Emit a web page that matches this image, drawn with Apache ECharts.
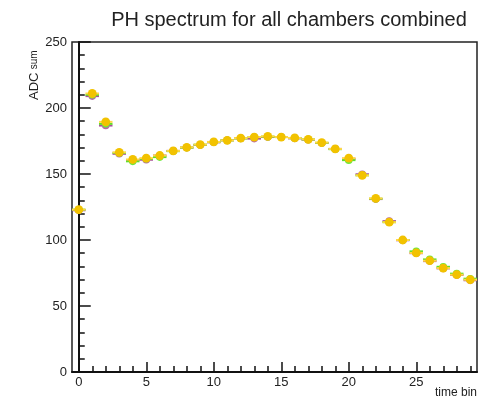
<!DOCTYPE html>
<html>
<head>
<meta charset="utf-8">
<script src="https://cdn.jsdelivr.net/npm/echarts@6/dist/echarts.min.js"></script>
<style>
  html, body { margin: 0; padding: 0; background: #fff; }
  #chart { width: 495px; height: 400px; }
</style>
</head>
<body>
<div id="chart"></div>
<script>
// Time bins 0..29
const timeBins = [0,1,2,3,4,5,6,7,8,9,10,11,12,13,14,15,16,17,18,19,20,21,22,23,24,25,26,27,28,29];

// ADC sum per time bin, one array per chamber group
const adcPurple = [122.5,209,186.7,165.3,160.5,160.8,164,167.5,170,172,174,175.5,177,176.8,178,178,177,176,173.5,169,161.5,149.8,131,114.3,99.8,90,84,78.5,73.5,69.5];
const adcGreen  = [123,210,188,166,159.6,161.5,162.8,167.3,170,172.2,174.2,175.5,177,178,178.3,178,177.2,176.2,173.6,168.8,160.5,149,131.3,113.5,100,91.4,85.3,79.7,74.5,70.7];
const adcYellow = [123,211,189.5,166.4,161,162,164,167.5,170.2,172.3,174.3,175.5,177.2,178,178.5,178,177.3,176.3,173.8,169,162,149,131.5,113.5,100,90.2,84.3,78.7,73.7,69.9];

// Axis tick labels
const xMajorTicks = [0,5,10,15,20,25];
const yTicks = [0,50,100,150,200,250];

const FONT = 'Liberation Sans, Arial, sans-serif';

const chart = echarts.init(document.getElementById('chart'), null, { renderer: 'canvas' });

function pairs(vals) {
  return timeBins.map((t, i) => [t, vals[i]]);
}

// Bin-width horizontal bar plus round marker for each point
function markerSeries(name, vals, barColor, dotColor, r) {
  return {
    name: name,
    type: 'custom',
    xAxisIndex: 0,
    yAxisIndex: 0,
    data: pairs(vals),
    renderItem: function (params, api) {
      const x = api.value(0), y = api.value(1);
      const p0 = api.coord([x - 0.5, y]);
      const p1 = api.coord([x + 0.5, y]);
      const c = api.coord([x, y]);
      return {
        type: 'group',
        children: [
          { type: 'line', shape: { x1: p0[0], y1: p0[1], x2: p1[0], y2: p1[1] },
            style: { stroke: barColor, lineWidth: 2 } },
          { type: 'circle', shape: { cx: c[0], cy: c[1], r: r },
            style: { fill: dotColor } }
        ]
      };
    }
  };
}

const axisText = { color: '#222', fontFamily: FONT, fontSize: 13 };

const option = {
  animation: false,
  backgroundColor: '#fff',
  title: {
    text: 'PH spectrum for all chambers combined',
    left: 284, top: 5,
    textAlign: 'center',
    textStyle: { color: '#222', fontFamily: FONT, fontSize: 20, fontWeight: 'normal' }
  },
  grid: {
    left: 72, right: 18, top: 42, bottom: 28,
    outerBoundsMode: 'none',
    containLabel: false,
    show: true, borderColor: '#222', borderWidth: 1.5, backgroundColor: 'transparent'
  },
  xAxis: [
    {
      type: 'value', min: -0.5, max: 29.5,
      axisLine: { lineStyle: { color: '#111', width: 2 } },
      axisTick: { inside: true, length: 10, lineStyle: { color: '#111', width: 1.5 }, customValues: xMajorTicks },
      axisLabel: Object.assign({ customValues: xMajorTicks, margin: 4 }, axisText),
      splitLine: { show: false }
    },
    {
      type: 'value', min: -0.5, max: 29.5, position: 'bottom',
      axisLine: { show: false },
      axisTick: { inside: true, length: 6, lineStyle: { color: '#111', width: 1.5 }, customValues: timeBins },
      axisLabel: { show: false },
      splitLine: { show: false }
    }
  ],
  yAxis: {
    type: 'value', min: 0, max: 250, interval: 50,
    axisLine: { show: true, lineStyle: { color: '#111', width: 2 } },
    axisTick: { show: true, inside: true, length: 12, lineStyle: { color: '#111', width: 1.5 } },
    minorTick: { show: true, splitNumber: 5, length: 6, lineStyle: { color: '#111', width: 1.5 } },
    axisLabel: Object.assign({ margin: 5 }, axisText),
    splitLine: { show: false }
  },
  graphic: [
    { type: 'text', right: 18, top: 387,
      style: { text: 'time bin', fill: '#222', font: '12px ' + FONT } },
    { type: 'text', x: 41, y: 100, rotation: Math.PI / 2,
      style: {
        text: '{a|ADC} {b|sum}',
        align: 'left', verticalAlign: 'bottom',
        rich: {
          a: { fontSize: 13, fill: '#222', fontFamily: FONT },
          b: { fontSize: 10, fill: '#222', fontFamily: FONT }
        }
      } }
  ],
  series: [
    markerSeries('purple', adcPurple, '#a8509a', '#b866a8', 3.8),
    markerSeries('green', adcGreen, '#5fe02a', '#6ee83a', 3.8),
    markerSeries('yellow', adcYellow, '#ffd84a', '#f2c200', 4.4)
  ]
};

chart.setOption(option);
</script>
</body>
</html>
